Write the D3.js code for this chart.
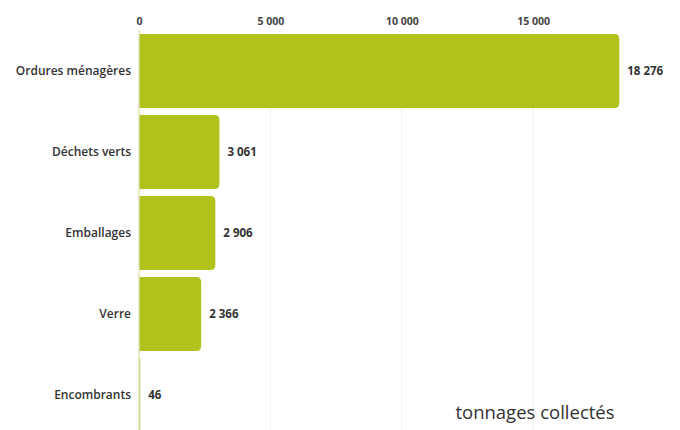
<!DOCTYPE html>
<html><head><meta charset="utf-8">
<script src="https://cdn.jsdelivr.net/npm/d3@7"></script>
<style>body{margin:0;background:#fff}svg{display:block}</style>
</head><body>
<svg id="c" width="680" height="430"></svg>
<script>
const categories = ["Ordures ménagères","Déchets verts","Emballages","Verre","Encombrants"];
const values = [18276, 3061, 2906, 2366, 46];
const tickValues = [0, 5000, 10000, 15000];
const axisTitle = "tonnages collectés";

const fmt = v => d3.format(",")(v).replace(/,/g, "\u00a0");
const svg = d3.select("#c");
const left = 139;
const x = d3.scaleLinear().domain([0, 5000]).range([left, left + 131.4]);
const y = d3.scaleBand().domain(categories).range([34, 432]).paddingInner(0.0864).paddingOuter(0);
const font = "'Open Sans', Lato, sans-serif";
const color = "#b1c21d";

// gridlines
svg.append("g").selectAll("line").data(tickValues.slice(1)).join("line")
  .attr("x1", d => x(d)).attr("x2", d => x(d)).attr("y1", 30).attr("y2", 430)
  .attr("stroke", "#f1f1ec").attr("stroke-width", 1);

// top axis
const ax = svg.append("g").attr("transform", "translate(0,29)")
  .call(d3.axisTop(x).tickValues(tickValues).tickFormat(fmt).tickSize(0).tickPadding(4));
ax.select(".domain").remove();
ax.selectAll("text").attr("font-family", font).attr("font-size", 10.5).attr("font-weight", 700).attr("fill", "#444");

// bars with right rounded corners
const r = 5;
svg.append("g").selectAll("path").data(categories).join("path")
  .attr("fill", color)
  .attr("d", (c, i) => {
    const x0 = x(0), x1 = x(values[i]), y0 = y(c), h = y.bandwidth();
    const rr = Math.min(r, (x1 - x0));
    return `M${x0},${y0}H${x1 - rr}Q${x1},${y0} ${x1},${y0 + rr}V${y0 + h - rr}Q${x1},${y0 + h} ${x1 - rr},${y0 + h}H${x0}Z`;
  });

// left axis line
svg.append("line").attr("x1", left).attr("x2", left).attr("y1", 30).attr("y2", 430)
  .attr("stroke", "#dfe3b8").attr("stroke-width", 1.5);

// category labels
svg.append("g").selectAll("text").data(categories).join("text")
  .attr("x", left - 8).attr("y", c => y(c) + y.bandwidth() / 2).attr("dy", "0.35em")
  .attr("text-anchor", "end").attr("font-family", font).attr("font-size", 12).attr("font-weight", 600)
  .attr("fill", "#333").text(c => c);

// value labels
svg.append("g").selectAll("text").data(categories).join("text")
  .attr("x", (c, i) => x(values[i]) + 8).attr("y", c => y(c) + y.bandwidth() / 2).attr("dy", "0.35em")
  .attr("font-family", font).attr("font-size", 11.5).attr("font-weight", 700)
  .attr("fill", "#333").text((c, i) => fmt(values[i]));

// axis title
svg.append("text").attr("x", 535).attr("y", 419).attr("text-anchor", "middle")
  .attr("font-family", font).attr("font-size", 18.5).attr("fill", "#333").text(axisTitle);
</script>
</body></html>
